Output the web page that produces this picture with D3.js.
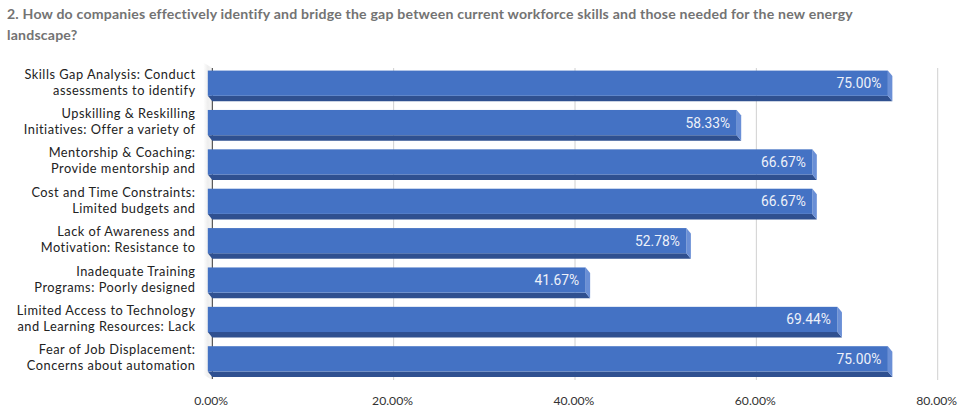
<!DOCTYPE html>
<html>
<head>
<meta charset="utf-8">
<script src="https://cdn.jsdelivr.net/npm/d3@7"></script>
<style>
  html, body { margin: 0; padding: 0; background: #fff; }
  svg { display: block; }
</style>
</head>
<body>
<svg id="chart" width="958" height="411"></svg>
<script>
// Survey responses: share of companies choosing each approach / barrier
const titleLines = [
  "2. How do companies effectively identify and bridge the gap between current workforce skills and those needed for the new energy",
  "landscape?"
];
const categories = [
  ["Skills Gap Analysis: Conduct", "assessments to identify"],
  ["Upskilling & Reskilling", "Initiatives: Offer a variety of"],
  ["Mentorship & Coaching:", "Provide mentorship and"],
  ["Cost and Time Constraints:", "Limited budgets and"],
  ["Lack of Awareness and", "Motivation: Resistance to"],
  ["Inadequate Training", "Programs: Poorly designed"],
  ["Limited Access to Technology", "and Learning Resources: Lack"],
  ["Fear of Job Displacement:", "Concerns about automation"]
];
const values = [0.75, 0.5833, 0.6667, 0.6667, 0.5278, 0.4167, 0.6944, 0.75];
const xTicks = [0, 0.2, 0.4, 0.6, 0.8];

const svg = d3.select("#chart");
const plotTop = 68, plotBottom = 380;
const depthX = 4.5, depthY = 5.5;   // 3D extrusion of the bars

const keys = categories.map((c, i) => i);
const x = d3.scaleLinear().domain([0, 0.8]).range([212.3, 937.7]);
const y = d3.scaleBand().domain(keys).range([69, 384])
  .paddingInner(0.36).paddingOuter(0.18);
const pct = d3.format(".2%");

// Title
svg.append("g").selectAll("text").data(titleLines).join("text")
  .attr("x", 7).attr("y", (d, i) => 18.5 + i * 21.5)
  .attr("font-family", "Lato, 'Open Sans', sans-serif")
  .attr("font-weight", 700).attr("font-size", 14.1)
  .attr("letter-spacing", 0.2)
  .attr("fill", "#737373")
  .text(d => d);

// Side wall of the 3D plot area
const defs = svg.append("defs");
const wallGrad = defs.append("linearGradient").attr("id", "wall")
  .attr("x1", 0).attr("x2", 1).attr("y1", 0).attr("y2", 0);
wallGrad.append("stop").attr("offset", 0).attr("stop-color", "#ffffff");
wallGrad.append("stop").attr("offset", 0.5).attr("stop-color", "#eeeeee");
wallGrad.append("stop").attr("offset", 1).attr("stop-color", "#f6f6f6");
svg.append("path")
  .attr("d", d3.line()([
    [x(0) - depthX * 2, plotTop - depthY],
    [x(0), plotTop],
    [x(0), plotBottom],
    [x(0) - depthX * 2, plotBottom - depthY]
  ]) + "Z")
  .attr("fill", "url(#wall)");

// Gridlines
svg.append("g").selectAll("line").data(xTicks.slice(1)).join("line")
  .attr("x1", d => x(d)).attr("x2", d => x(d))
  .attr("y1", plotTop).attr("y2", plotBottom)
  .attr("stroke", "#d0d0d0").attr("stroke-width", 1);
svg.append("line")
  .attr("x1", x(0)).attr("x2", x(0))
  .attr("y1", plotTop).attr("y2", plotBottom - 1)
  .attr("stroke", "#333").attr("stroke-width", 1);

// X axis labels
const xAxis = d3.axisBottom(x).tickValues(xTicks).tickFormat(pct).tickSize(0).tickPadding(0);
const gx = svg.append("g").attr("transform", `translate(0,${396})`).call(xAxis);
gx.select(".domain").remove();
gx.selectAll("text")
  .attr("dy", "0.71em").attr("dx", -1.6)
  .attr("font-family", "Lato, 'Open Sans', sans-serif")
  .attr("font-size", 12.2).attr("fill", "#333");

// Bars: back plane sits on the gridlines, front face is pulled up-left
const bars = svg.append("g").selectAll("g").data(keys).join("g");
bars.each(function (i) {
  const g = d3.select(this);
  const x0 = x(0), x1 = x(values[i]);
  const y0 = y(i), y1 = y(i) + y.bandwidth();
  const fx0 = x0 - depthX, fx1 = x1 - depthX, fy0 = y0 - depthY, fy1 = y1 - depthY;
  // bottom face
  g.append("path").attr("d", d3.line()([[fx0, fy1], [fx1, fy1], [x1, y1], [x0, y1]]) + "Z")
    .attr("fill", "#2f5090");
  // right side face
  g.append("path").attr("d", d3.line()([[fx1, fy0], [x1, y0], [x1, y1], [fx1, fy1]]) + "Z")
    .attr("fill", "#6a8fd6");
  // front face
  g.append("rect").attr("x", fx0).attr("y", fy0)
    .attr("width", fx1 - fx0).attr("height", fy1 - fy0)
    .attr("fill", "#4472c4");
  // value label
  g.append("text")
    .attr("x", fx1 - 6.5).attr("y", (fy0 + fy1) / 2 + 5)
    .attr("text-anchor", "end")
    .attr("font-family", "Roboto, sans-serif").attr("font-size", 13.8)
    .attr("fill", "#eef1f9")
    .text(pct(values[i]));
  // category label (two lines)
  const cy = (fy0 + fy1) / 2;
  g.append("text")
    .attr("text-anchor", "end")
    .attr("font-family", "Lato, 'Open Sans', sans-serif")
    .attr("font-size", 12.8).attr("letter-spacing", 0.5).attr("fill", "#222")
    .selectAll("tspan").data(categories[i]).join("tspan")
    .attr("x", 195.5).attr("y", (d, k) => cy - 4.5 + k * 16)
    .text(d => d);
});
</script>
</body>
</html>
